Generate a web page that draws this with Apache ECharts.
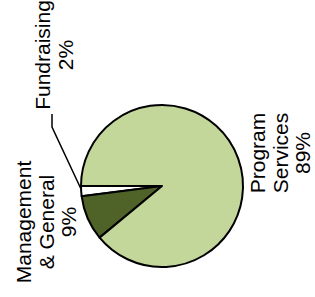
<!DOCTYPE html>
<html>
<head>
<meta charset="utf-8">
<script src="https://cdn.jsdelivr.net/npm/echarts@6/dist/echarts.min.js"></script>
<style>
html,body{margin:0;padding:0;background:#fff;}
#c{width:315px;height:297px;}
</style>
</head>
<body>
<div id="c"></div>
<script>
const categories = ['Fundraising', 'Management\n& General', 'Program\nServices'];
const values = [2, 9, 89];
const colors = ['#FFFFFF', '#4F6228', '#C4D79B'];

const labelPos = [[54, 55], [46, 222], [280, 153]];
const leader = [[81, 189], [52, 127], [52, 114]];

const chart = echarts.init(document.getElementById('c'), null, {renderer: 'svg'});
chart.setOption({
  animation: false,
  backgroundColor: '#fff',
  series: [{
    type: 'pie',
    center: [162, 186],
    radius: 81,
    startAngle: 180,
    clockwise: false,
    percentPrecision: 0,
    data: categories.map((n, i) => ({
      name: n,
      value: values[i],
      itemStyle: {color: colors[i]},
      labelLine: {show: i === 0}
    })),
    itemStyle: {borderColor: '#000', borderWidth: 2},
    label: {
      show: true,
      position: 'outside',
      rotate: 90,
      color: '#000',
      fontFamily: 'Liberation Sans, Arial, sans-serif',
      fontSize: 21,
      lineHeight: 22.5,
      align: 'center',
      formatter: p => p.name + '\n' + p.percent + '%'
    },
    labelLine: {lineStyle: {color: '#000', width: 1.5}},
    labelLayout: function (params) {
      const i = params.dataIndex;
      const o = {x: labelPos[i][0], y: labelPos[i][1], align: 'center', verticalAlign: 'middle', rotate: 90};
      if (i === 0) o.labelLinePoints = leader;
      return o;
    },
    emphasis: {disabled: true}
  }]
});
</script>
</body>
</html>
